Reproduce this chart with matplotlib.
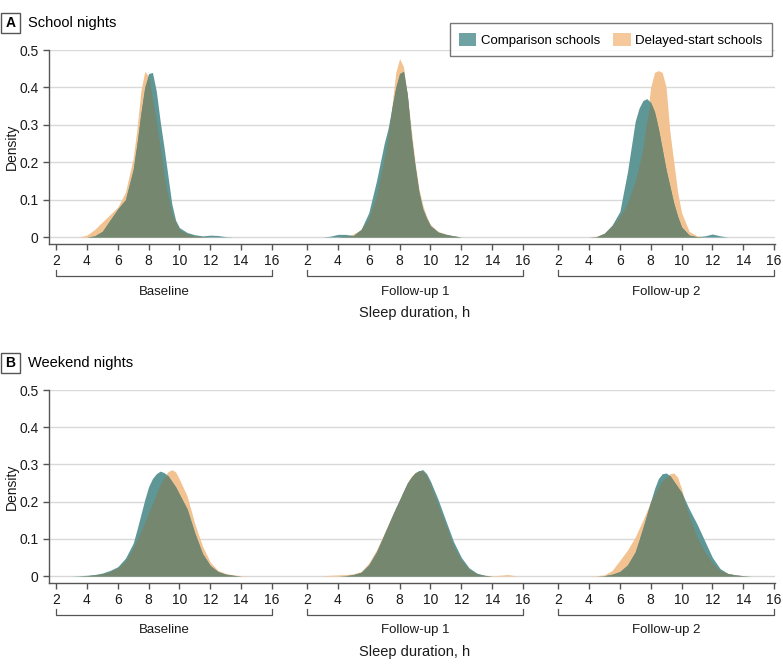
import matplotlib
matplotlib.use('Agg')
import matplotlib.pyplot as plt
import numpy as np
from matplotlib.patches import Patch, Rectangle
from matplotlib.transforms import blended_transform_factory
from matplotlib.ticker import FuncFormatter

plt.rcParams['font.family'] = ['Liberation Sans', 'DejaVu Sans']

# sleep duration grid (h) where densities were read
hours = np.array([3, 3.5, 4, 4.5, 5, 5.5, 6, 6.5, 7, 7.25, 7.5, 7.75, 8, 8.25, 8.5, 8.75,
                  9, 9.25, 9.5, 9.75, 10, 10.5, 11, 11.5, 12, 12.5, 13, 13.5, 14, 14.5, 15, 15.5])

periods = ['Baseline', 'Follow-up 1', 'Follow-up 2']

# school nights
school_comp_base = [0, 0, 0, 0.003, 0.015, 0.045, 0.075, 0.1, 0.18, 0.25, 0.33, 0.4, 0.437, 0.44, 0.39, 0.31,
                    0.24, 0.165, 0.09, 0.045, 0.025, 0.012, 0.006, 0.003, 0.005, 0.004, 0.001, 0, 0, 0, 0, 0]
school_del_base = [0, 0, 0.005, 0.02, 0.04, 0.06, 0.08, 0.12, 0.21, 0.29, 0.39, 0.443, 0.43, 0.37, 0.31, 0.24,
                   0.165, 0.11, 0.065, 0.04, 0.02, 0.008, 0.003, 0.001, 0, 0, 0, 0, 0, 0, 0, 0]
school_comp_fu1 = [0, 0.002, 0.007, 0.007, 0.004, 0.02, 0.065, 0.15, 0.25, 0.29, 0.345, 0.4, 0.437, 0.443, 0.38, 0.27,
                   0.19, 0.12, 0.075, 0.05, 0.03, 0.013, 0.007, 0.003, 0, 0, 0, 0, 0, 0, 0, 0]
school_del_fu1 = [0, 0, 0, 0.002, 0.008, 0.02, 0.05, 0.11, 0.21, 0.27, 0.35, 0.44, 0.477, 0.455, 0.38, 0.29,
                  0.2, 0.13, 0.085, 0.055, 0.033, 0.015, 0.008, 0.003, 0, 0, 0, 0, 0, 0, 0, 0]
school_comp_fu2 = [0, 0, 0, 0.001, 0.01, 0.032, 0.068, 0.175, 0.31, 0.345, 0.365, 0.37, 0.36, 0.335, 0.29, 0.235,
                   0.18, 0.135, 0.09, 0.055, 0.027, 0.005, 0.001, 0.003, 0.008, 0.003, 0, 0, 0, 0, 0, 0]
school_del_fu2 = [0, 0, 0, 0.002, 0.01, 0.03, 0.055, 0.09, 0.15, 0.19, 0.24, 0.31, 0.4, 0.44, 0.445, 0.44,
                  0.4, 0.28, 0.2, 0.12, 0.065, 0.015, 0.003, 0, 0, 0, 0, 0, 0, 0, 0, 0]

# weekend nights
week_comp_base = [0, 0.001, 0.002, 0.004, 0.008, 0.015, 0.025, 0.048, 0.088, 0.125, 0.165, 0.205, 0.24, 0.262, 0.275, 0.282,
                  0.278, 0.27, 0.255, 0.24, 0.22, 0.18, 0.115, 0.06, 0.028, 0.012, 0.005, 0.002, 0, 0, 0, 0]
week_del_base = [0, 0, 0.001, 0.003, 0.006, 0.012, 0.022, 0.04, 0.075, 0.097, 0.12, 0.145, 0.17, 0.195, 0.22, 0.245,
                 0.265, 0.28, 0.286, 0.28, 0.26, 0.215, 0.14, 0.08, 0.037, 0.015, 0.007, 0.003, 0.001, 0, 0, 0]
week_comp_fu1 = [0, 0, 0, 0.001, 0.004, 0.01, 0.03, 0.065, 0.112, 0.136, 0.16, 0.183, 0.205, 0.228, 0.25, 0.265,
                 0.277, 0.283, 0.286, 0.275, 0.255, 0.205, 0.148, 0.092, 0.05, 0.022, 0.008, 0.002, 0, 0, 0, 0]
week_del_fu1 = [0.001, 0.002, 0.003, 0.004, 0.006, 0.012, 0.035, 0.07, 0.115, 0.138, 0.16, 0.183, 0.205, 0.228, 0.25, 0.268,
                0.278, 0.283, 0.282, 0.27, 0.245, 0.19, 0.135, 0.08, 0.042, 0.018, 0.006, 0.002, 0.001, 0.002, 0.004, 0.001]
week_comp_fu2 = [0, 0, 0, 0, 0.001, 0.005, 0.012, 0.03, 0.065, 0.097, 0.13, 0.165, 0.2, 0.235, 0.262, 0.275,
                 0.277, 0.27, 0.255, 0.24, 0.225, 0.18, 0.14, 0.095, 0.05, 0.02, 0.007, 0.003, 0.001, 0, 0, 0]
week_del_fu2 = [0, 0, 0, 0.001, 0.003, 0.015, 0.042, 0.07, 0.105, 0.128, 0.15, 0.175, 0.2, 0.22, 0.24, 0.255,
                0.265, 0.275, 0.277, 0.265, 0.235, 0.16, 0.105, 0.065, 0.035, 0.015, 0.007, 0.003, 0.001, 0, 0, 0]

panels = [
    ('A', 'School nights', [(school_comp_base, school_del_base), (school_comp_fu1, school_del_fu1),
                            (school_comp_fu2, school_del_fu2)]),
    ('B', 'Weekend nights', [(week_comp_base, week_del_base), (week_comp_fu1, week_del_fu1),
                             (week_comp_fu2, week_del_fu2)]),
]

TEAL = '#5f9696'
ORANGE = '#f3c291'
OLIVE = '#75876f'
DARK = '#555555'
TXT = '#1a1a1a'
GAP = 16.27  # horizontal shift between the three periods
PX_PER_H = 15.43

W, H = 783, 670
AX_W = 726
fig = plt.figure(figsize=(W / 100, H / 100), dpi=100)

ax_boxes = [(50, 244), (390, 583)]  # top, bottom in px
for (letter, title, groups), (top, bot) in zip(panels, ax_boxes):
    ax = fig.add_axes([49 / W, 1 - bot / H, AX_W / W, (bot - top) / H])
    for g, (comp, dly) in enumerate(groups):
        x = hours + g * GAP
        comp = np.array(comp)
        dly = np.array(dly)
        ax.fill_between(x, 0, dly, color=ORANGE, lw=0, zorder=2)
        ax.fill_between(x, 0, comp, color=TEAL, lw=0, zorder=3)
        ax.fill_between(x, 0, np.minimum(comp, dly), color=OLIVE, lw=0, zorder=4)

    xmin = 2 - 7 / PX_PER_H
    ax.set_xlim(xmin, xmin + AX_W / PX_PER_H)
    ax.set_ylim(-0.0187, 0.5)
    ticks = np.concatenate([np.arange(2, 17, 2) + g * GAP for g in range(3)])
    ax.set_xticks(ticks)
    ax.set_xticklabels([str(t) for t in list(range(2, 17, 2)) * 3])
    ax.set_yticks([0, 0.1, 0.2, 0.3, 0.4, 0.5])
    ax.yaxis.set_major_formatter(FuncFormatter(lambda v, p: '0' if v == 0 else f'{v:.1f}'))
    ax.grid(axis='y', color='#d9d9d9', lw=1, zorder=0)
    ax.set_axisbelow(True)
    for s in ['top', 'right']:
        ax.spines[s].set_visible(False)
    for s in ['left', 'bottom']:
        ax.spines[s].set_color(DARK)
        ax.spines[s].set_linewidth(1)
    ax.tick_params(axis='both', colors=DARK, labelcolor=TXT, labelsize=10, length=4, width=1)
    ax.tick_params(axis='x', pad=3)
    ax.set_ylabel('Density', fontsize=10, color=TXT)
    ax.yaxis.set_label_coords(-0.042, 0.5)

    tr = blended_transform_factory(ax.transData, ax.transAxes)
    for g, name in enumerate(periods):
        x0, x1 = 2 + g * GAP, 16 + g * GAP
        ax.plot([x0, x0, x1, x1], [-0.134, -0.165, -0.165, -0.134], color=DARK, lw=0.9,
                transform=tr, clip_on=False)
        ax.text((x0 + x1) / 2, -0.245, name, transform=tr, ha='center', va='center',
                fontsize=9.5, color=TXT)
    ax.text(9 + GAP, -0.358, 'Sleep duration, h', transform=tr, ha='center', va='center',
            fontsize=10.5, color=TXT)

    # panel header
    yc = top - 27
    fig.patches.append(Rectangle((1 / W, 1 - (yc + 10) / H), 19 / W, 20 / H, transform=fig.transFigure,
                                 fill=False, ec=DARK, lw=1))
    fig.text(10.5 / W, 1 - yc / H, letter, ha='center', va='center', fontsize=10, weight='bold')
    fig.text(28 / W, 1 - yc / H, title, ha='left', va='center', fontsize=10.5)

handles = [Patch(facecolor='#6fa3a3', edgecolor='none', label='Comparison schools'),
           Patch(facecolor='#f5c99c', edgecolor='none', label='Delayed-start schools')]
leg = fig.legend(handles=handles, loc='upper right', bbox_to_anchor=(772 / W, 1 - 23 / H), ncol=2,
                 fontsize=9.5, frameon=True, fancybox=False, edgecolor=DARK, borderaxespad=0,
                 handlelength=1.3, handleheight=1.25, handletextpad=0.35, columnspacing=1.0,
                 borderpad=0.72)
leg.get_frame().set_linewidth(1)

fig.savefig('out.png', dpi=100)
